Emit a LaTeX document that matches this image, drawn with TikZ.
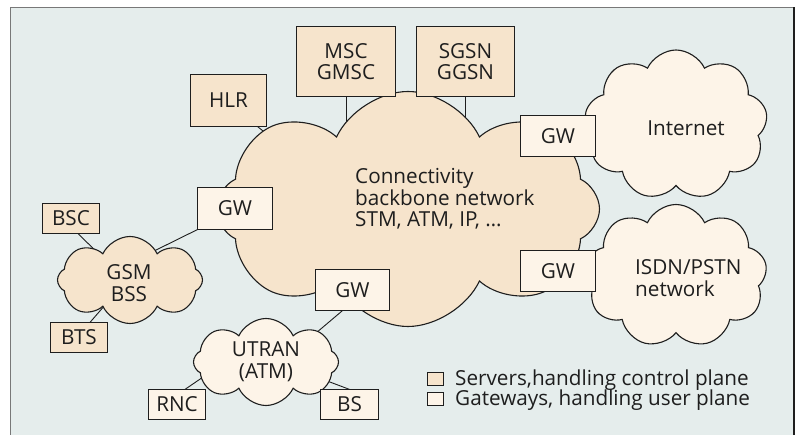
\documentclass[tikz,border=0pt]{standalone}
\usepackage{fontspec}
\setmainfont{Open Sans}
\usetikzlibrary{shapes.symbols}
\definecolor{panelbg}{RGB}{229,237,236}
\definecolor{server}{RGB}{246,228,204}
\definecolor{gateway}{RGB}{253,244,232}
\definecolor{ink}{RGB}{30,30,30}
\definecolor{frame}{RGB}{120,120,120}
\tikzset{
  lbl/.style={font=\fontsize{20.7}{21.5}\selectfont, text=ink, inner sep=0pt, align=center},
  box/.style={draw=ink, line width=1.2pt, inner sep=0pt, lbl},
  srv/.style={box, fill=server},
  gwy/.style={box, fill=gateway},
  net/.style={cloud, cloud ignores aspect, draw=ink, line width=1.1pt, inner sep=0pt, cloud puff arc=130},
  link/.style={draw=ink, line width=0.9pt},
}
\begin{document}
\begin{tikzpicture}[x=1pt,y=-1pt]
\useasboundingbox (0,0) rectangle (798,435);
% panel
\fill[panelbg] (10.5,7.5) rectangle (794,435);
\draw[frame, line width=1.5pt] (10.5,435) -- (10.5,7.5) -- (794,7.5);
\draw[ink, line width=1.2pt] (794,7.5) -- (794,435);

% boxes are placed first so that the connectors can refer to them
\node[srv, minimum width=98pt, minimum height=69pt] (msc) at (346,61.5) {MSC\\GMSC};
\node[srv, minimum width=97pt, minimum height=69pt] (sgsn) at (465.5,61.5) {SGSN\\GGSN};
\node[srv, minimum width=75pt, minimum height=51pt] (hlr) at (228.5,100.5) {HLR};
\node[srv, minimum width=56pt, minimum height=29pt] (bsc) at (71,218.5) {BSC};
\node[srv, minimum width=56pt, minimum height=29pt] (bts) at (79,337.5) {BTS};
\node[gwy, minimum width=56pt, minimum height=29pt] (rnc) at (177,404.5) {RNC};
\node[gwy, minimum width=57pt, minimum height=29pt] (bs) at (349.5,404.5) {BS};
\node[gwy, minimum width=74pt, minimum height=41pt] (gwl) at (235,208.5) {GW};
\node[gwy, minimum width=74pt, minimum height=40pt] (gwtr) at (558,136) {GW};
\node[gwy, minimum width=74pt, minimum height=40pt] (gwbr) at (558,271) {GW};
\node[gwy, minimum width=73pt, minimum height=40pt] (gwb) at (352.5,290) {GW};

% cloud interiors where the connectors end
\coordinate (hlrin) at (300,161);
\coordinate (gsmin1) at (144,256);
\coordinate (gsmin2) at (105,260);
\coordinate (gsmin3) at (112,297);
\coordinate (utrin1) at (290,355);
\coordinate (utrin2) at (225,362);
\coordinate (utrin3) at (298,370);

% connectors
\draw[link] ([xshift=-9pt]hlr.south east) -- (hlrin);
\draw[link] (msc.south) -- ++(0,40);
\draw[link] (sgsn.south) -- ++(0,40);
\draw[link] (gwl.south west) -- (gsmin1);
\draw[link] ([xshift=7pt]bsc.south) -- (gsmin2);
\draw[link] ([xshift=11pt]bts.north) -- (gsmin3);
\draw[link] ([xshift=-10pt]gwb.south) -- (utrin1);
\draw[link] ([xshift=8pt]rnc.north) -- (utrin2);
\draw[link] (bs.north) -- (utrin3);

% networks
\node[net, fill=server, cloud puffs=8, minimum width=383pt, minimum height=235pt] (core) at (408,209) {};
\node[net, fill=gateway, cloud puffs=9, minimum width=183pt, minimum height=150pt] (inet) at (676,125) {};
\node[net, fill=gateway, cloud puffs=9, minimum width=182pt, minimum height=143pt] (isdn) at (676,276) {};
\node[net, fill=server, cloud puffs=8, minimum width=145pt, minimum height=87pt] (gsm) at (130,280) {};
\node[net, fill=gateway, cloud puffs=8, minimum width=145pt, minimum height=87pt] (utran) at (266,362) {};

% boxes again, on top of the networks
\foreach \n in {msc, sgsn, hlr, bsc, bts} {
  \draw[ink, line width=1.2pt, fill=server] (\n.south west) rectangle (\n.north east);
}
\foreach \n in {rnc, bs, gwl, gwtr, gwbr, gwb} {
  \draw[ink, line width=1.2pt, fill=gateway] (\n.south west) rectangle (\n.north east);
}
\node[lbl] at (msc) {MSC\\GMSC};
\node[lbl] at (sgsn) {SGSN\\GGSN};
\node[lbl] at (hlr) {HLR};
\node[lbl] at (bsc) {BSC};
\node[lbl] at (bts) {BTS};
\node[lbl] at (rnc) {RNC};
\node[lbl] at (bs) {BS};
\foreach \n in {gwl, gwtr, gwbr, gwb} { \node[lbl] at (\n) {GW}; }

% network labels
\node[lbl, align=left, anchor=west] (corelbl) at (355,199) {Connectivity\\backbone network\\STM, ATM, IP, …};
\node[lbl] (inetlbl) at (686,128) {Internet};
\node[lbl, align=left, anchor=west] (isdnlbl) at (635,278) {ISDN/PSTN\\network};
\node[lbl] (gsmlbl) at (129,283) {GSM\\BSS};
\node[lbl] (utranlbl) at (266,361.5) {UTRAN\\(ATM)};

% key
\node[srv, line width=1pt, minimum width=16pt, minimum height=13pt] (keysrv) at (435,379.5) {};
\node[gwy, line width=1pt, minimum width=16pt, minimum height=13pt] (keygw) at (435,399.5) {};
\node[lbl, anchor=base west] (keysrvtxt) at (455,386) {Servers,handling control plane};
\node[lbl, anchor=base west] (keygwtxt) at (455,406) {Gateways, handling user plane};
\end{tikzpicture}
\end{document}
